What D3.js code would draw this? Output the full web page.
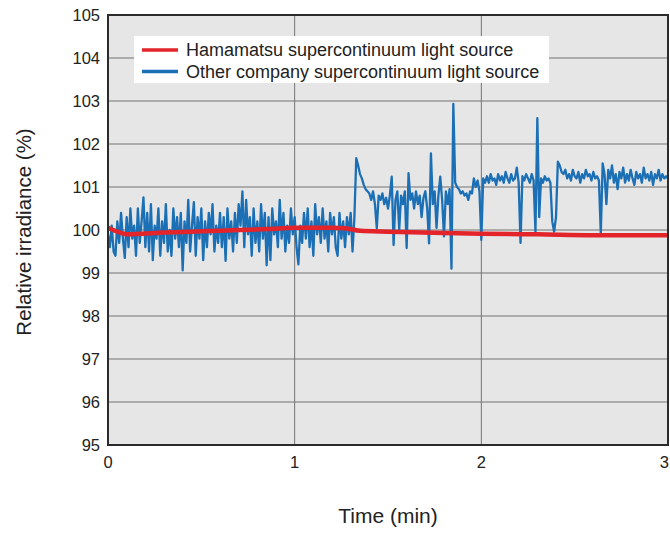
<!DOCTYPE html>
<html>
<head>
<meta charset="utf-8">
<script src="https://cdn.jsdelivr.net/npm/d3@7"></script>
<style>
  body { margin: 0; background: #fff; }
  svg text { font-family: "Liberation Sans", Arial, sans-serif; fill: #222; }
</style>
</head>
<body>
<div class="chart"></div>
<script>
// time axis (min) and relative irradiance axis (%)
const xTicks = [0, 1, 2, 3];
const yTicks = [95, 96, 97, 98, 99, 100, 101, 102, 103, 104, 105];

// other company source, sampled every 0.01 min from 0 to 3 min
const sampleStep = 0.01;
const otherValues = [
  99.9, 99.6, 100.1, 99.5, 99.4, 100.2, 99.7, 100.4, 99.8, 99.35,
  100.3, 99.6, 100.5, 99.8, 100.1, 99.4, 100.5, 99.7, 100.2, 100.76,
  99.6, 100.4, 99.5, 100.6, 99.3, 100.1, 99.8, 100.5, 99.4, 100.2,
  99.7, 100.6, 99.5, 100.0, 99.4, 100.5, 99.8, 100.3, 99.6, 100.4,
  99.06, 100.2, 99.7, 100.7, 99.5, 100.1, 100.65, 99.4, 100.3, 99.8,
  100.5, 99.3, 100.2, 99.6, 100.4, 99.9, 100.6, 99.5, 100.1, 99.7,
  100.4, 99.6, 100.3, 99.28, 100.5, 99.8, 100.2, 99.5, 100.4, 99.7,
  100.6, 100.1, 100.9, 99.6, 100.7, 99.9, 100.3, 99.4, 100.5, 99.7,
  100.2, 99.5, 100.6, 99.8, 100.4, 99.18, 100.3, 99.3, 100.5, 99.9,
  100.2, 99.6, 100.7, 99.8, 100.4, 99.5, 100.1, 99.7, 100.5, 99.9,
  100.3, 99.6, 99.2, 100.1, 99.7, 100.4, 99.8, 100.5, 99.6, 100.2,
  99.4, 100.6, 99.9, 100.3, 99.7, 100.5, 99.8, 100.2, 99.5, 100.4,
  99.9, 100.3, 99.6, 99.4, 100.4, 99.8, 100.2, 99.6, 100.3, 99.9,
  100.4, 99.5, 100.3, 101.67, 101.5, 101.3, 101.2, 101.05, 100.95, 100.9,
  100.85, 100.7, 100.9, 100.6, 100.04, 100.8, 100.7, 100.85, 100.6, 100.75,
  100.5, 100.8, 101.24, 99.65, 100.7, 100.9, 100.0, 100.8, 100.6, 100.9,
  99.58, 101.32, 100.7, 100.85, 100.5, 100.9, 100.6, 100.8, 100.3, 100.75,
  100.9, 100.5, 99.69, 101.78, 100.6, 100.9, 100.05, 100.8, 101.24, 100.7,
  99.85, 100.9, 100.6, 100.95, 99.1, 102.93, 101.1, 101.0, 100.95, 100.85,
  100.9, 100.8, 100.85, 100.7, 100.9, 100.85, 101.2, 101.0, 101.15, 100.9,
  99.77, 101.2, 101.1, 101.25, 101.1, 101.3, 101.15, 101.2, 101.05, 101.3,
  101.15, 101.25, 101.1, 101.35, 101.2, 101.1, 101.3, 101.15, 101.2, 101.45,
  101.1, 99.7, 101.25, 101.15, 101.3, 101.2, 101.1, 101.3, 101.15, 99.96,
  102.6, 100.3, 101.2, 101.1, 101.25, 101.15, 101.2, 101.1, 100.2, 99.96,
  100.3, 101.59, 101.5, 101.35, 101.3, 101.4, 101.2, 101.3, 101.15, 101.4,
  101.25, 101.2, 101.35, 101.1, 101.3, 101.2, 101.4, 101.25, 101.3, 101.15,
  101.35, 101.2, 101.25, 101.15, 99.92, 101.55, 101.3, 100.6, 101.4, 101.2,
  101.5, 101.1, 101.3, 100.95, 101.35, 101.2, 101.45, 101.1, 101.3, 101.15,
  101.4, 101.2, 101.05, 101.35, 101.2, 101.3, 101.1, 101.45, 101.2, 101.3,
  101.15, 101.35, 101.05, 101.3, 101.2, 101.4, 101.15, 101.3, 101.2, 101.25,
  101.2
];

// Hamamatsu source: smooth, read at these times
const hamaTimes  = [0, 0.05, 0.1, 0.2, 0.3, 0.5, 0.7, 0.9, 1.0, 1.2, 1.27, 1.35, 1.5, 1.8, 2.0, 2.3, 2.6, 3.0];
const hamaValues = [100.05, 99.96, 99.9, 99.92, 99.94, 99.97, 100.0, 100.03, 100.05, 100.05, 100.04, 99.98, 99.96, 99.93, 99.91, 99.9, 99.88, 99.88];

const seriesNames = ["Hamamatsu supercontinuum light source", "Other company supercontinuum light source"];
const seriesColors = ["#e3242b", "#1b6fb5"];

const width = 670, height = 533;
const margin = { left: 108, right: 2, top: 15, bottom: 88 };

const svg = d3.select(".chart").append("svg")
    .attr("width", width)
    .attr("height", height);

const x = d3.scaleLinear().domain([0, 3]).range([margin.left, width - margin.right]);
const y = d3.scaleLinear().domain([95, 105]).range([height - margin.bottom, margin.top]);

// plot background
svg.append("rect")
    .attr("x", x(0)).attr("y", y(105))
    .attr("width", x(3) - x(0)).attr("height", y(95) - y(105))
    .attr("fill", "#e6e6e7");

// grid
svg.append("g").selectAll("line")
    .data(yTicks.slice(1, -1))
    .enter().append("line")
    .attr("x1", x(0)).attr("x2", x(3))
    .attr("y1", d => y(d)).attr("y2", d => y(d))
    .attr("stroke", "#737373").attr("stroke-width", 1);

svg.append("g").selectAll("line")
    .data(xTicks.slice(1, -1))
    .enter().append("line")
    .attr("x1", d => x(d)).attr("x2", d => x(d))
    .attr("y1", y(95)).attr("y2", y(105))
    .attr("stroke", "#737373").attr("stroke-width", 1);

// data lines
svg.append("clipPath").attr("id", "plotclip")
    .append("rect")
    .attr("x", x(0)).attr("y", y(105))
    .attr("width", x(3) - x(0)).attr("height", y(95) - y(105));

const otherData = otherValues.map((v, i) => [i * sampleStep, v]);
const hamaData = hamaTimes.map((t, i) => [t, hamaValues[i]]);

const line = d3.line().x(d => x(d[0])).y(d => y(d[1]));

svg.append("path")
    .datum(otherData)
    .attr("clip-path", "url(#plotclip)")
    .attr("d", line)
    .attr("fill", "none")
    .attr("stroke", seriesColors[1])
    .attr("stroke-width", 2.3)
    .attr("stroke-linejoin", "round");

svg.append("path")
    .datum(hamaData)
    .attr("clip-path", "url(#plotclip)")
    .attr("d", line.curve(d3.curveMonotoneX))
    .attr("fill", "none")
    .attr("stroke", seriesColors[0])
    .attr("stroke-width", 4.5)
    .attr("stroke-linecap", "round");

// frame
svg.append("rect")
    .attr("x", x(0)).attr("y", y(105))
    .attr("width", x(3) - x(0)).attr("height", y(95) - y(105))
    .attr("fill", "none")
    .attr("stroke", "#2b2b2b").attr("stroke-width", 2);

// tick labels
svg.append("g").selectAll("text")
    .data(yTicks)
    .enter().append("text")
    .attr("x", x(0) - 8)
    .attr("y", d => y(d))
    .attr("dy", "0.36em")
    .attr("text-anchor", "end")
    .attr("font-size", 16.5)
    .text(d => d);

svg.append("g").selectAll("text")
    .data(xTicks)
    .enter().append("text")
    .attr("x", (d, i) => i === xTicks.length - 1 ? width - 1 : x(d))
    .attr("y", y(95) + 23)
    .attr("text-anchor", (d, i) => i === xTicks.length - 1 ? "end" : "middle")
    .attr("font-size", 16.5)
    .text(d => d);

// axis titles
svg.append("text")
    .attr("transform", "translate(31, 232) rotate(-90)")
    .attr("text-anchor", "middle")
    .attr("font-size", 20.5)
    .text("Relative irradiance (%)");

svg.append("text")
    .attr("x", 388)
    .attr("y", 523)
    .attr("text-anchor", "middle")
    .attr("font-size", 21)
    .text("Time (min)");

// legend
const legend = svg.append("g").attr("transform", "translate(134, 36)");
legend.append("rect")
    .attr("width", 415).attr("height", 47)
    .attr("fill", "#fff");
const item = legend.selectAll("g.item")
    .data(seriesNames)
    .enter().append("g")
    .attr("class", "item")
    .attr("transform", (d, i) => `translate(0, ${14 + i * 21.5})`);
item.append("line")
    .attr("x1", 8).attr("x2", 44)
    .attr("stroke", (d, i) => seriesColors[i])
    .attr("stroke-width", 3.5);
item.append("text")
    .attr("x", 52)
    .attr("dy", "0.36em")
    .attr("font-size", 18)
    .text(d => d);
</script>
</body>
</html>
